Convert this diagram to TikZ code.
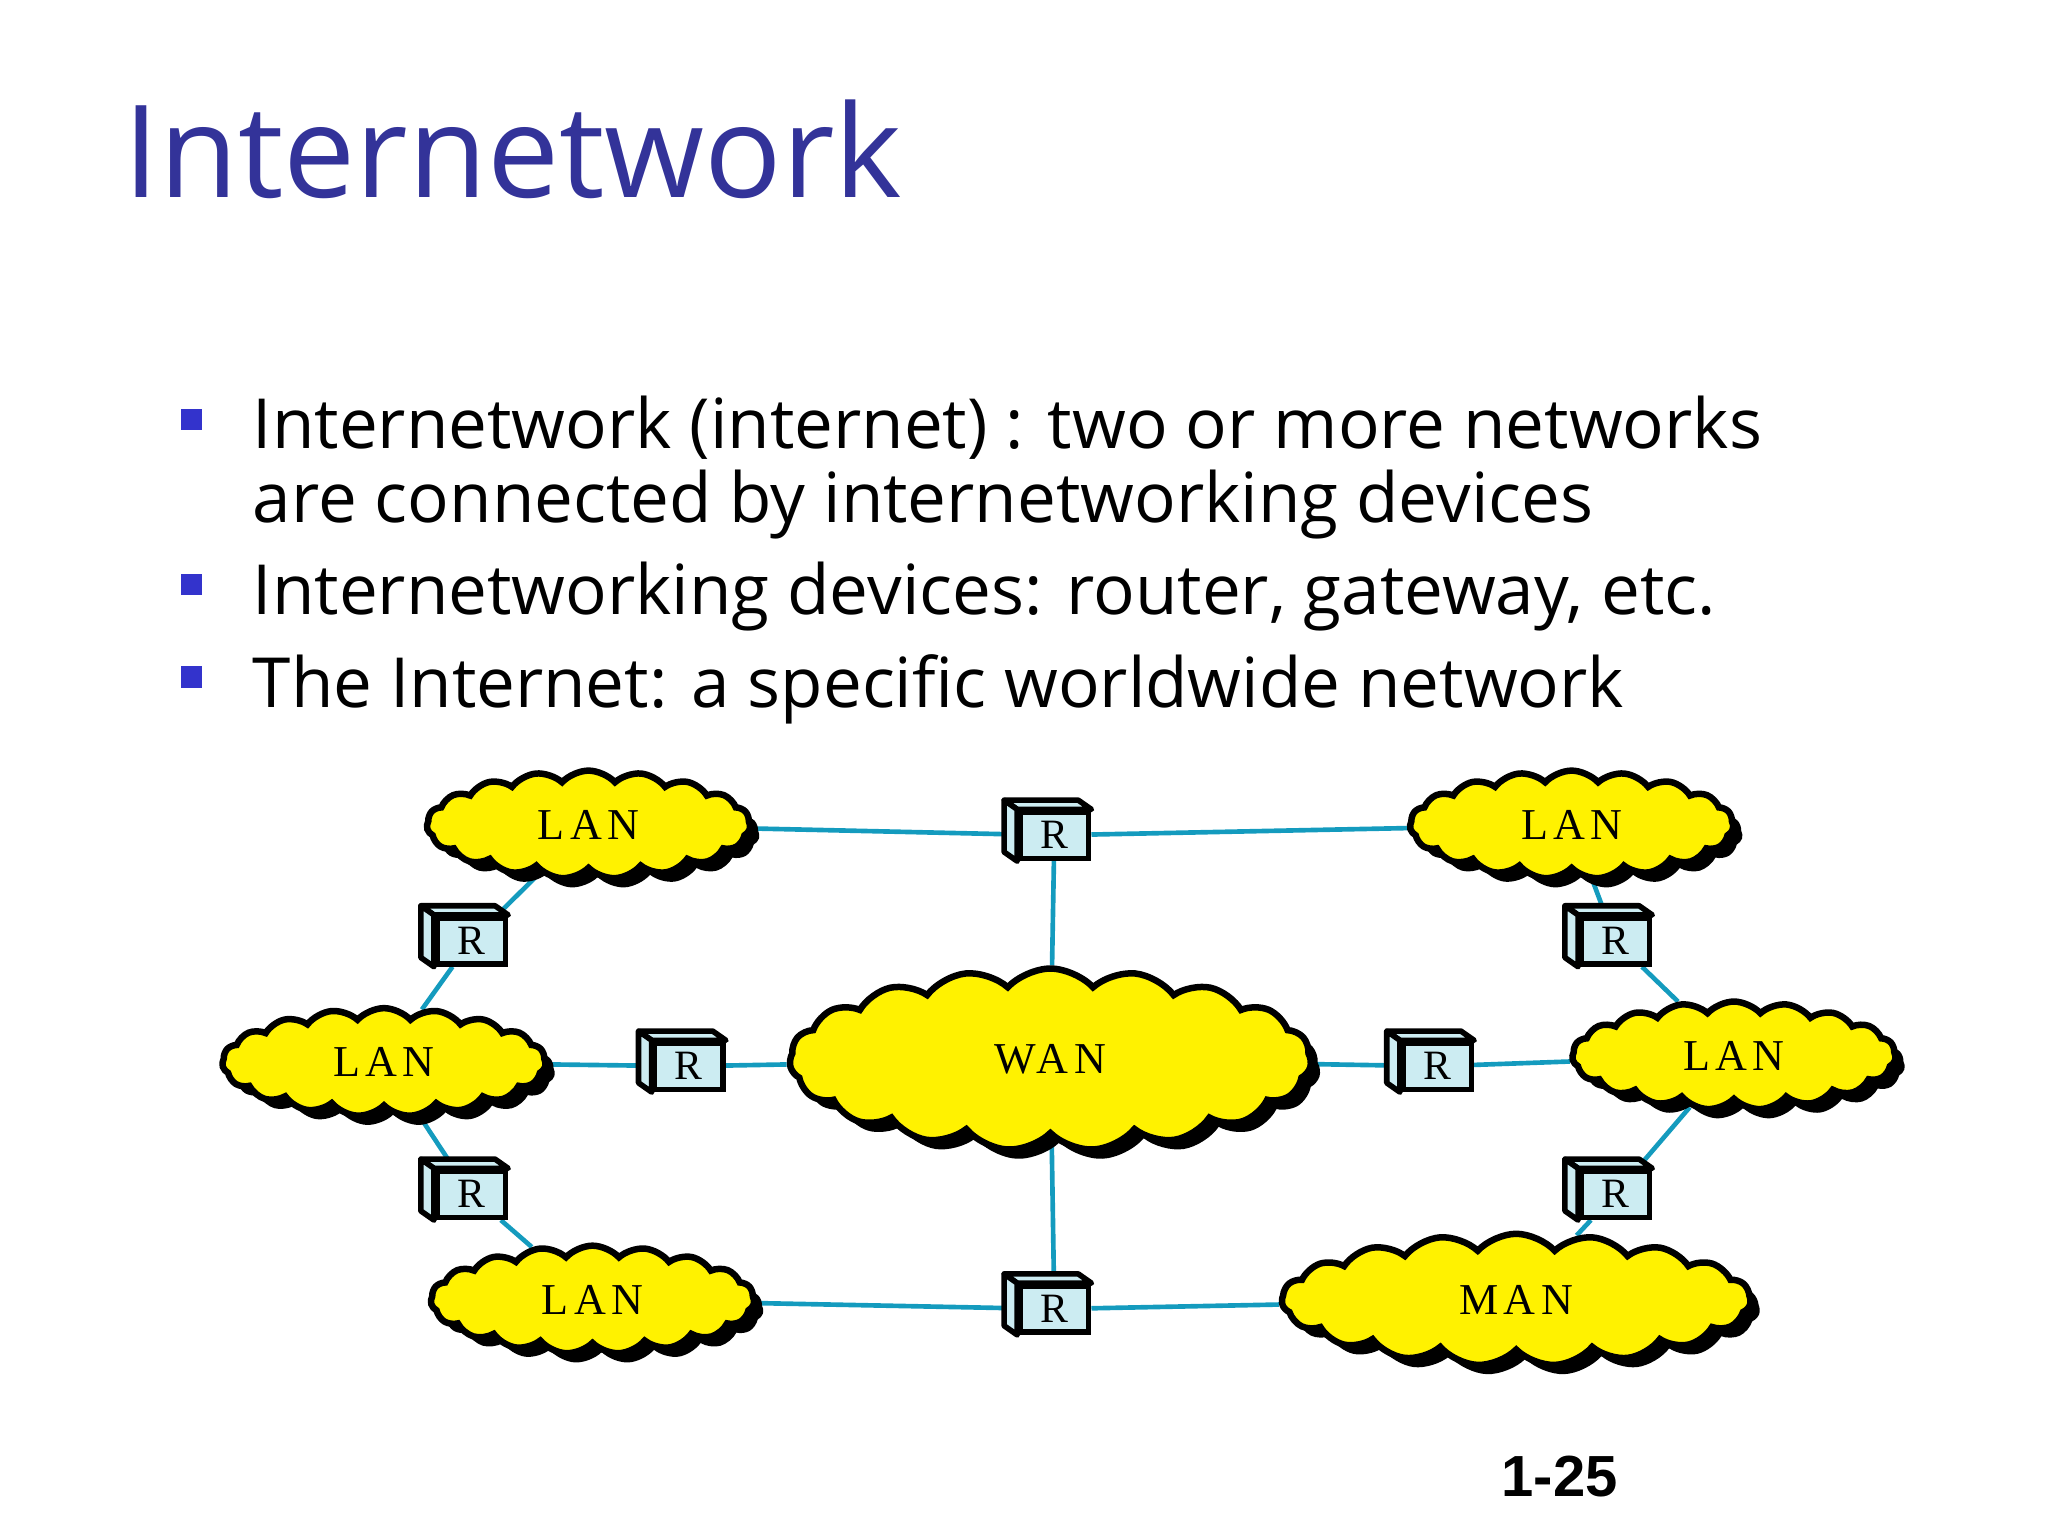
\documentclass[tikz,border=0pt]{standalone}
\usepackage{fontspec}
\setmainfont{Open Sans}
\newfontfamily\serifnet[LetterSpace=12]{Liberation Serif}
\newfontfamily\serifr{Liberation Serif}
\newfontfamily\pagefont{Liberation Sans}
\usetikzlibrary{shapes.symbols,shadows,backgrounds}
\definecolor{titleblue}{RGB}{51,51,153}
\definecolor{bulletblue}{RGB}{51,51,204}
\definecolor{linkc}{RGB}{20,155,190}
\definecolor{routerc}{RGB}{204,236,242}
\begin{document}
\begin{tikzpicture}[x=0.01cm,y=-0.01cm,
  netcloud/.style={cloud, cloud puffs=19, cloud puff arc=95, aspect=3.2, draw=black, line width=1.4pt, fill=yellow,
     drop shadow={shadow xshift=0.07cm, shadow yshift=-0.07cm, fill=black, opacity=1},
     font=\serifnet\fontsize{9.5}{10}\selectfont, inner sep=0pt},
  routerbox/.style={rectangle, draw=black, line width=1.2pt, fill=routerc, minimum width=0.52cm, minimum height=0.35cm,
     inner sep=0pt, font=\serifr\fontsize{9}{10}\selectfont},
  link/.style={draw=linkc, line width=1pt},
  bullettxt/.style={anchor=base west, font=\fontsize{14.9}{18}\selectfont, inner sep=0pt},
  bulletmark/.style={fill=bulletblue, minimum size=0.16cm, inner sep=0pt}]
\path[use as bounding box] (0,0) rectangle (1552,1164);
\node[anchor=base west, inner sep=0pt, text=titleblue, font=\fontsize{27.7}{34}\selectfont] (title) at (93,150) {Internetwork};
\node[bulletmark] (b1) at (145,318) {};
\node[bulletmark] (b2) at (145,443) {};
\node[bulletmark] (b3) at (145,513) {};
\node[bullettxt] (t1) at (191,340) {Internetwork (internet) : two or more networks};
\node[bullettxt] (t1b) at (191,396) {are connected by internetworking devices};
\node[bullettxt] (t2) at (191,466) {Internetworking devices: router, gateway, etc.};
\node[bullettxt] (t3) at (191,536) {The Internet: a specific worldwide network};
\node[anchor=base, inner sep=0pt, font=\pagefont\bfseries\fontsize{12.5}{15}\selectfont] (pg) at (1182,1134) {1-25};

\begin{scope}[shift={(-4,-5)}]
\node[netcloud, minimum width=2.45cm, minimum height=0.82cm] (lan1) at (450,630) {LAN};
\node[netcloud, minimum width=2.45cm, minimum height=0.82cm] (lan2) at (1195,630) {LAN};
\node[netcloud, minimum width=2.45cm, minimum height=0.82cm] (lan3) at (295,810) {LAN};
\node[netcloud, minimum width=3.95cm, minimum height=1.38cm, aspect=2.9] (wan) at (800,808) {WAN};
\node[netcloud, minimum width=2.45cm, minimum height=0.82cm] (lan4) at (1318,805) {LAN};
\node[netcloud, minimum width=2.45cm, minimum height=0.82cm] (lan5) at (453,990) {LAN};
\node[netcloud, minimum width=3.55cm, minimum height=1.0cm] (man) at (1153,990) {MAN};

\foreach \n/\x/\y in {r1/803/638, r2/361/718, r3/1228/718, r4/526/813, r5/1093/813, r6/361/910, r7/1228/910, r8/803/997}{
  \node[routerbox] (\n) at (\x,\y) {R};
  \draw[line width=1.2pt, fill=routerc, line join=round] (\n.north west) -- ++(-10,-7) -- ([shift={(-10,-7)}]\n.north east) -- (\n.north east) -- cycle;
  \draw[line width=1.2pt, fill=routerc, line join=round] (\n.north west) -- ++(-10,-7) -- ([shift={(-10,-7)}]\n.south west) -- (\n.south west) -- cycle;
}
\end{scope}
\begin{scope}[on background layer]
\draw[link] (lan1) -- (r1) -- (lan2);
\draw[link] (r1) -- (wan);
\draw[link] (lan1) -- (r2) -- (lan3);
\draw[link] (lan2) -- (r3) -- (lan4);
\draw[link] (lan3) -- (r4) -- (wan);
\draw[link] (wan) -- (r5) -- (lan4);
\draw[link] (lan3) -- (r6) -- (lan5);
\draw[link] (lan4) -- (r7) -- (man);
\draw[link] (lan5) -- (r8) -- (man);
\draw[link] (wan) -- (r8);
\end{scope}
\end{tikzpicture}
\end{document}
